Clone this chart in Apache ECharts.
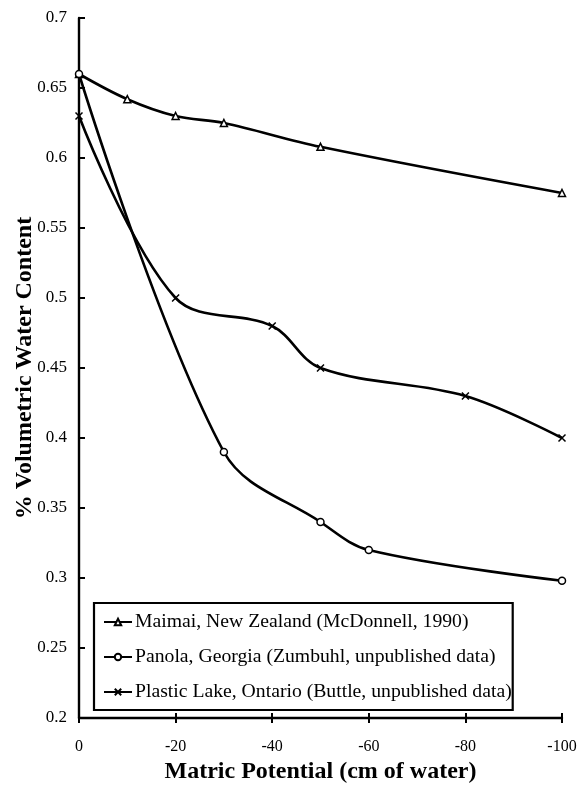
<!DOCTYPE html>
<html>
<head>
<meta charset="utf-8">
<script src="https://cdn.jsdelivr.net/npm/echarts@6/dist/echarts.min.js"></script>
<style>
html,body{margin:0;padding:0;background:#fff;}
#chart{width:584px;height:786px;}
</style>
</head>
<body>
<div id="chart"></div>
<script>
// Data
const seriesNames = [
  'Maimai, New Zealand (McDonnell, 1990)',
  'Panola, Georgia (Zumbuhl, unpublished data)',
  'Plastic Lake, Ontario (Buttle, unpublished data)'
];
const maimaiX = [0, -10, -20, -30, -50, -100];
const maimaiY = [0.66, 0.642, 0.63, 0.625, 0.608, 0.575];
const panolaX = [0, -30, -50, -60, -100];
const panolaY = [0.66, 0.39, 0.34, 0.32, 0.298];
const plasticX = [0, -20, -40, -50, -80, -100];
const plasticY = [0.63, 0.50, 0.48, 0.45, 0.43, 0.40];
const xTicks = {min: -100, max: 0, interval: 20};
const yTicks = {min: 0.2, max: 0.7, interval: 0.05};

const FONT = "'Liberation Serif', 'Times New Roman', serif";
const pairs = (xs, ys) => xs.map((x, i) => [x, ys[i]]);
const crossPath = 'path://M0,0L10,10M10,0L0,10';

const chart = echarts.init(document.getElementById('chart'));
const baseSeries = {
  type: 'line',
  smooth: 0.35,
  symbolSize: 7,
  lineStyle: {color: '#000', width: 2.6},
  itemStyle: {color: '#fff', borderColor: '#000', borderWidth: 1.5},
  emphasis: {disabled: true},
  z: 3
};
chart.setOption({
  animation: false,
  backgroundColor: '#fff',
  grid: {left: 79, right: 22, top: 18, bottom: 68, containLabel: false, outerBoundsMode: 'none'},
  legend: {
    orient: 'vertical',
    left: 94, top: 603,
    padding: [9, 1, 8, 9],
    itemGap: 15,
    itemWidth: 28, itemHeight: 8,
    borderColor: '#000', borderWidth: 2.2,
    backgroundColor: '#fff',
    textStyle: {fontFamily: FONT, fontSize: 19.7, color: '#000', padding: [0, 0, 0, -2]},
    data: seriesNames
  },
  xAxis: [{
    type: 'value',
    inverse: true,
    min: xTicks.min, max: xTicks.max, interval: xTicks.interval,
    position: 'bottom',
    name: 'Matric Potential (cm of water)',
    nameLocation: 'middle',
    nameGap: 41,
    nameTextStyle: {fontFamily: FONT, fontSize: 24, fontWeight: 'bold', color: '#000'},
    axisLine: {lineStyle: {color: '#000', width: 2.4}},
    axisTick: {show: true, length: 5, inside: false, lineStyle: {color: '#000', width: 2}},
    axisLabel: {fontFamily: FONT, fontSize: 16, color: '#000', margin: 21},
    splitLine: {show: false}
  }, {
    type: 'value',
    inverse: true,
    min: xTicks.min, max: xTicks.max, interval: xTicks.interval,
    position: 'bottom',
    offset: 0,
    axisLine: {show: false},
    axisTick: {show: true, length: 5, inside: true, lineStyle: {color: '#000', width: 2}},
    axisLabel: {show: false},
    splitLine: {show: false}
  }],
  yAxis: {
    type: 'value',
    min: yTicks.min, max: yTicks.max, interval: yTicks.interval,
    name: '% Volumetric Water Content',
    nameLocation: 'middle',
    nameMoveOverlap: false,
    nameGap: 42,
    nameTextStyle: {fontFamily: FONT, fontSize: 24, fontWeight: 'bold', color: '#000'},
    axisLine: {show: true, lineStyle: {color: '#000', width: 2.4}},
    axisTick: {show: true, length: 6, inside: true, lineStyle: {color: '#000', width: 2}},
    axisLabel: {fontFamily: FONT, fontSize: 17, color: '#000', margin: 12},
    splitLine: {show: false}
  },
  series: [
    Object.assign({}, baseSeries, {name: seriesNames[0], symbol: 'triangle', data: pairs(maimaiX, maimaiY)}),
    Object.assign({}, baseSeries, {name: seriesNames[1], symbol: 'circle', data: pairs(panolaX, panolaY)}),
    Object.assign({}, baseSeries, {name: seriesNames[2], symbol: crossPath, symbolSize: 7, data: pairs(plasticX, plasticY)})
  ]
});
</script>
</body>
</html>
